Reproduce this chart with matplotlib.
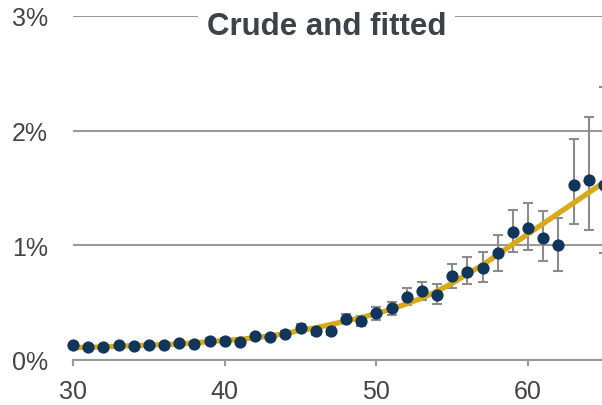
import matplotlib
matplotlib.use("Agg")
import matplotlib.pyplot as plt
from matplotlib.ticker import FuncFormatter

plt.rcParams['font.family'] = ['Liberation Sans', 'DejaVu Sans']

ages = list(range(30, 66))
crude = [0.13, 0.11, 0.11, 0.13, 0.12, 0.13, 0.13, 0.15, 0.14, 0.17,
         0.17, 0.16, 0.21, 0.20, 0.23, 0.28, 0.25, 0.255, 0.36, 0.34,
         0.41, 0.45, 0.55, 0.60, 0.57, 0.73, 0.77, 0.80, 0.93, 1.12,
         1.15, 1.06, 1.00, 1.53, 1.57, 1.53]
lower = [0.12, 0.10, 0.10, 0.12, 0.11, 0.12, 0.12, 0.14, 0.13, 0.15,
         0.15, 0.14, 0.19, 0.18, 0.21, 0.25, 0.22, 0.22, 0.32, 0.30,
         0.35, 0.39, 0.48, 0.52, 0.49, 0.63, 0.66, 0.68, 0.78, 0.94,
         0.96, 0.86, 0.78, 1.19, 1.13, 0.93]
upper = [0.14, 0.12, 0.12, 0.14, 0.13, 0.14, 0.14, 0.16, 0.15, 0.19,
         0.19, 0.18, 0.23, 0.22, 0.25, 0.31, 0.28, 0.29, 0.40, 0.38,
         0.46, 0.51, 0.63, 0.68, 0.66, 0.84, 0.90, 0.94, 1.09, 1.31,
         1.37, 1.30, 1.24, 1.93, 2.12, 2.38]
fitted = [0.11, 0.11, 0.115, 0.12, 0.125, 0.13, 0.135, 0.14, 0.15, 0.16,
          0.17, 0.18, 0.195, 0.21, 0.23, 0.26, 0.28, 0.31, 0.34, 0.37,
          0.405, 0.445, 0.49, 0.54, 0.60, 0.67, 0.75, 0.83, 0.92, 1.01,
          1.10, 1.19, 1.28, 1.37, 1.46, 1.55]
x_ticks = [30, 40, 50, 60]
y_ticks = [0, 1, 2, 3]
title = "Crude and fitted"

navy = "#12355b"
gold = "#d9a91a"
grey = "#8c8c8c"
text_col = "#444444"

fig = plt.figure(figsize=(6.02, 4.06), dpi=100)
ax = fig.add_axes([73/602, 45/406, (604-73)/602, (361-17)/406])

err_lo = [c - l for c, l in zip(crude, lower)]
err_hi = [u - c for c, u in zip(crude, upper)]

ax.errorbar(ages, crude, yerr=[err_lo, err_hi], fmt='none', ecolor=grey,
            elinewidth=1.5, capsize=3.6, capthick=1.5, zorder=2, clip_on=False)
ax.plot(ages, fitted, color=gold, lw=3.8, zorder=3, solid_capstyle='butt')
ax.plot(ages, crude, 'o', color=navy, ms=8.8, mec='none', zorder=4, clip_on=False)

ax.set_xlim(30, 65)
ax.set_ylim(0, 3)
ax.set_xticks(x_ticks)
ax.set_yticks(y_ticks)
ax.yaxis.set_major_formatter(FuncFormatter(lambda v, p: f"{int(v)}%"))

for s in ['top', 'right', 'left']:
    ax.spines[s].set_visible(False)
ax.spines['bottom'].set_color("#999999")
ax.spines['bottom'].set_linewidth(1.5)
ax.grid(axis='y', color="#999999", lw=1.5, zorder=0)
ax.set_axisbelow(True)

ax.tick_params(axis='x', length=4.5, width=1.5, color="#999999", pad=9,
               labelsize=18, labelcolor=text_col)
ax.tick_params(axis='y', length=0, pad=18, labelsize=18, labelcolor=text_col)

fig.text(326.5/602, 1 - 27/406, title, ha='center', va='center',
         fontsize=22.5, fontweight='bold', color="#3c4348",
         bbox=dict(facecolor='white', edgecolor='none', pad=6.5), zorder=10)

fig.savefig("out.png", dpi=100)
